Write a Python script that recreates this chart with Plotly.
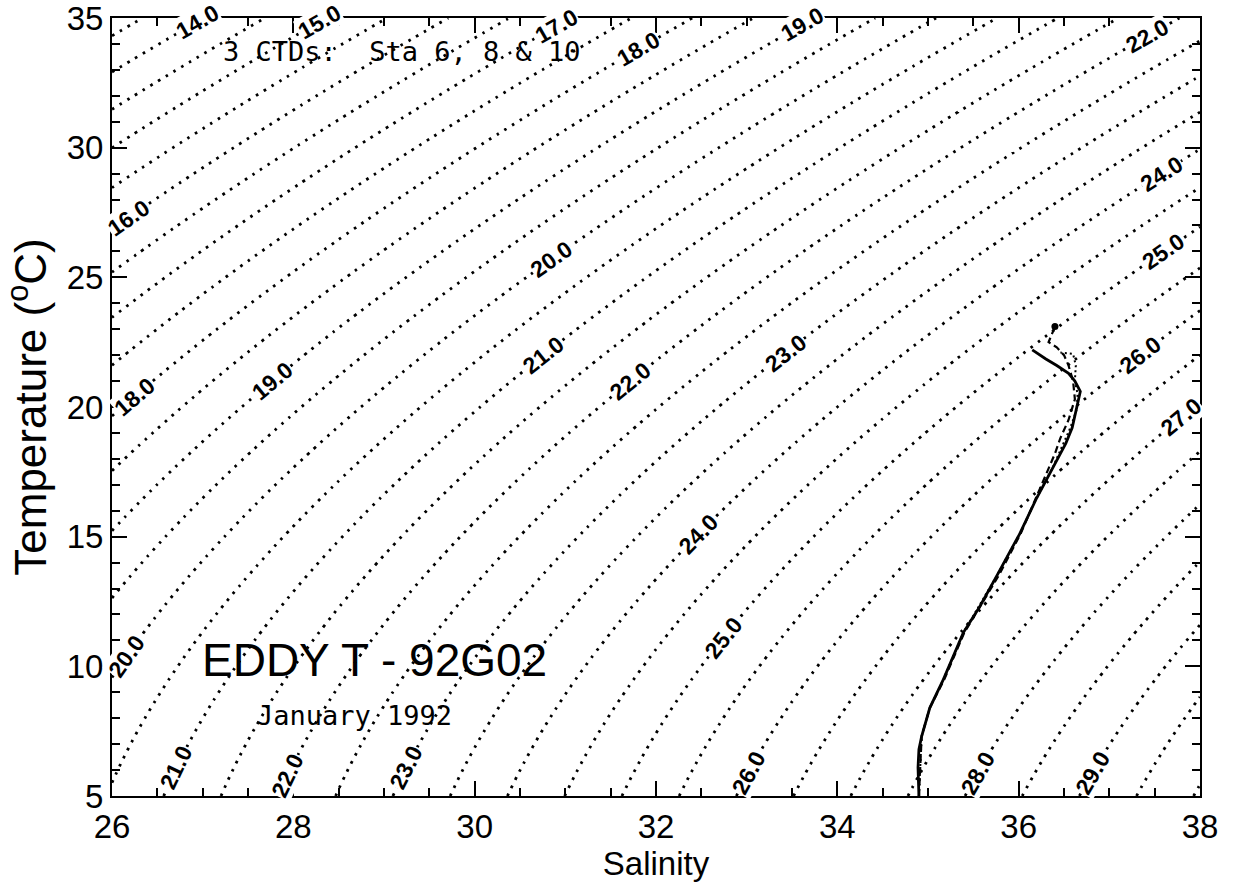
import numpy as np
import plotly.graph_objects as go

# ---------------- data ----------------
# Axis ranges (Salinity, Temperature)
sal_range = [26, 38]
temp_range = [5, 35]

# sigma-t contour levels drawn as dotted isopycnals
sigma_start, sigma_end, sigma_step = 12.0, 31.0, 0.5

# Contour labels: level text and approximate temperature where label sits
label_levels = [14.0, 15.0, 17.0, 18.0, 19.0, 22.0,
                16.0, 18.0, 20.0,
                19.0, 20.0, 21.0, 22.0, 23.0, 24.0, 25.0,
                24.0, 25.0, 26.0, 27.0,
                21.0, 22.0, 23.0, 26.0, 28.0, 29.0]
label_temps = [34.85, 34.85, 34.7, 33.8, 34.75, 34.3,
               27.3, 20.4, 10.4,
               21.0, 25.7, 22.0, 21.0, 22.1, 15.1, 11.1,
               29.0, 26.0, 22.0, 19.6,
               6.1, 5.8, 6.1, 5.9, 5.9, 5.9]

# CTD profiles (Sta 6, 8 & 10)
ctd1_sal = [34.90, 34.89, 34.90, 34.93, 35.02, 35.17, 35.39, 35.57, 35.76, 36.01,
            36.20, 36.38, 36.52, 36.59, 36.64, 36.68, 36.62, 36.55, 36.42, 36.30, 36.15]
ctd1_temp = [5.0, 6.1, 6.8, 7.3, 8.4, 9.5, 11.3, 12.3, 13.5, 15.1,
             16.5, 17.7, 18.6, 19.2, 20.0, 20.6, 21.0, 21.3, 21.6, 21.85, 22.2]

ctd2_sal = [34.90, 34.93, 35.02, 35.18, 35.40, 35.78, 36.02, 36.18, 36.30, 36.40,
            36.46, 36.55, 36.62, 36.60, 36.55, 36.50, 36.42, 36.33, 36.40]
ctd2_temp = [5.0, 7.3, 8.4, 9.5, 11.3, 13.5, 15.1, 16.4, 17.4, 18.2,
             18.8, 19.5, 20.3, 21.0, 21.6, 22.0, 22.3, 22.5, 23.1]

ctd3_sal = [34.90, 34.93, 35.02, 35.17, 35.39, 35.76, 36.01, 36.20, 36.38, 36.57,
            36.64, 36.65, 36.62, 36.63, 36.60, 36.46]
ctd3_temp = [5.0, 7.3, 8.4, 9.5, 11.3, 13.5, 15.1, 16.5, 17.7, 19.2,
             19.9, 20.5, 21.0, 21.6, 22.05, 22.1]

title_text = "EDDY T - 92G02"
date_text = "January 1992"
stations_text = "3 CTDs:  Sta 6, 8 & 10"

# ---------------- equation of state (UNESCO EOS-80, p = 0) ----------------
def sigma_t(S, T):
    rho_w = (999.842594 + 6.793952e-2 * T - 9.095290e-3 * T**2 + 1.001685e-4 * T**3
             - 1.120083e-6 * T**4 + 6.536332e-9 * T**5)
    A = 8.24493e-1 - 4.0899e-3 * T + 7.6438e-5 * T**2 - 8.2467e-7 * T**3 + 5.3875e-9 * T**4
    B = -5.72466e-3 + 1.0227e-4 * T - 1.6546e-6 * T**2
    C = 4.8314e-4
    return rho_w + A * S + B * S**1.5 + C * S**2 - 1000.0

S_grid = np.linspace(sal_range[0], sal_range[1], 241)
T_grid = np.linspace(temp_range[0], temp_range[1], 241)
SS, TT = np.meshgrid(S_grid, T_grid)
Z = sigma_t(SS, TT)

# ---------------- layout geometry ----------------
W, H = 1235, 886
ML, MR, MT, MB = 112, 35, 18, 90
px_per_S = (W - ML - MR) / (sal_range[1] - sal_range[0])
px_per_T = (H - MT - MB) / (temp_range[1] - temp_range[0])

fig = go.Figure()

fig.add_trace(go.Contour(
    x=S_grid, y=T_grid, z=Z,
    contours=dict(start=sigma_start, end=sigma_end, size=sigma_step,
                  coloring="none", showlabels=False),
    line=dict(color="black", width=2.8, dash="2.6px,6.4px", smoothing=0),
    showscale=False, hoverinfo="skip",
))

fig.add_trace(go.Scatter(x=ctd3_sal, y=ctd3_temp, mode="lines",
                         line=dict(color="black", width=2, dash="2px,3px")))
fig.add_trace(go.Scatter(x=ctd2_sal, y=ctd2_temp, mode="lines",
                         line=dict(color="black", width=2.2, dash="7px,4px")))
fig.add_trace(go.Scatter(x=ctd1_sal, y=ctd1_temp, mode="lines",
                         line=dict(color="black", width=2.8)))
fig.add_trace(go.Scatter(x=[ctd2_sal[-1]], y=[ctd2_temp[-1]], mode="markers",
                         marker=dict(color="black", size=7)))

# contour labels: place on the isopycnal, rotated along it
ds = 1e-3
for lev, t in zip(label_levels, label_temps):
    prof = sigma_t(S_grid, t)
    s = float(np.interp(lev, prof, S_grid))
    dsig_dS = (sigma_t(s + ds, t) - sigma_t(s - ds, t)) / (2 * ds)
    dsig_dT = (sigma_t(s, t + ds) - sigma_t(s, t - ds)) / (2 * ds)
    dx = -dsig_dT * px_per_S
    dy = -dsig_dS * px_per_T  # screen y downward
    ang = np.degrees(np.arctan2(dy, dx))
    fig.add_annotation(x=s, y=t, text="<b>%.1f</b>" % lev, showarrow=False,
                       textangle=float(ang), bgcolor="white", borderpad=0,
                       font=dict(family="Liberation Sans", size=23, color="black"))

fig.add_annotation(x=28.9, y=10.25, text=title_text, showarrow=False,
                   font=dict(family="Liberation Sans", size=46, color="black"))
fig.add_annotation(x=28.68, y=8.1, text=date_text, showarrow=False,
                   font=dict(family="DejaVu Sans Mono", size=27, color="black"))
fig.add_annotation(x=29.2, y=33.7, text=stations_text, showarrow=False,
                   font=dict(family="DejaVu Sans Mono", size=27, color="black"))

axis_common = dict(showline=True, linewidth=2, linecolor="black", mirror="ticks",
                   ticks="inside", tickcolor="black", tickwidth=2, automargin=False,
                   showgrid=False, zeroline=False, ticklabeloverflow="allow",
                   tickfont=dict(family="Liberation Sans", size=33, color="black"))

fig.update_xaxes(range=sal_range, dtick=2, tick0=26, ticklen=15,
                 minor=dict(dtick=0.5, ticklen=8, ticks="inside", tickcolor="black", tickwidth=2),
                 title=dict(text="Salinity", standoff=4,
                            font=dict(family="Liberation Sans", size=33, color="black")),
                 **axis_common)
fig.update_yaxes(range=temp_range, dtick=5, tick0=5, ticklen=15,
                 minor=dict(dtick=1, ticklen=8, ticks="inside", tickcolor="black", tickwidth=2),
                 title=dict(text="Temperature (<sup>o</sup>C)", standoff=6,
                            font=dict(family="Liberation Sans", size=44, color="black")),
                 **axis_common)

fig.update_layout(width=W, height=H, margin=dict(l=ML, r=MR, t=MT, b=MB, autoexpand=False),
                  paper_bgcolor="white", plot_bgcolor="white", showlegend=False)

fig.write_html("out.html")
